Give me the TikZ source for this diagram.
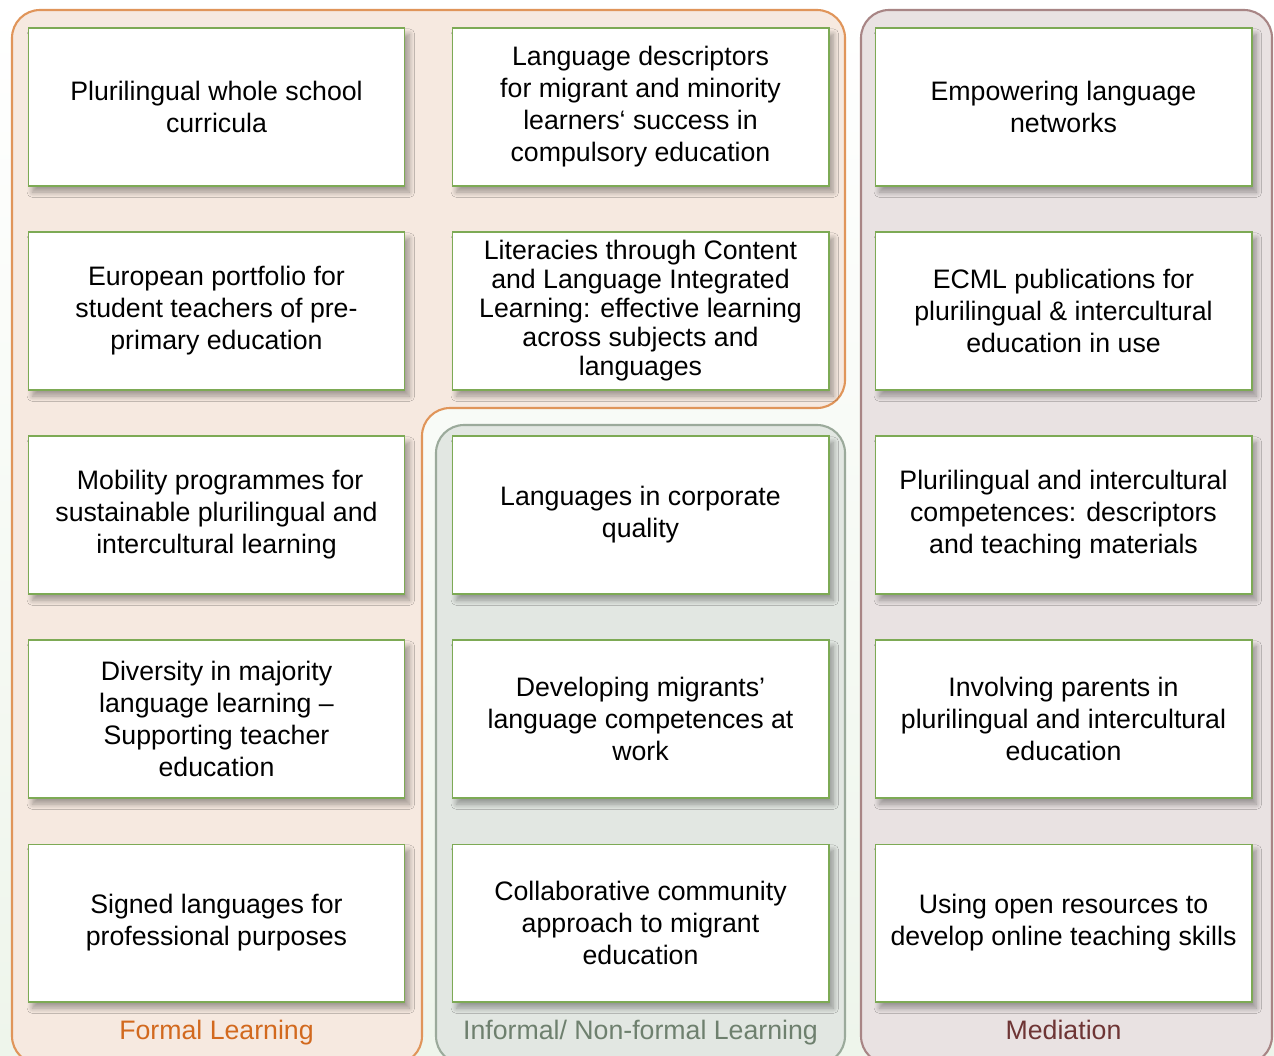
\documentclass[tikz,border=0pt]{standalone}
\usepackage{fontspec}
\setmainfont{Liberation Sans}
\usetikzlibrary{shadows.blur}
\definecolor{bgmint}{HTML}{EEF5EB}
\definecolor{boxline}{HTML}{7DAA55}
\definecolor{formalline}{HTML}{E0955A}
\definecolor{formalfill}{HTML}{F6E9E0}
\definecolor{formaltext}{HTML}{D2691E}
\definecolor{informalline}{HTML}{9BAA9B}
\definecolor{informalfill}{HTML}{E2E7E2}
\definecolor{informaltext}{HTML}{6E806E}
\definecolor{medline}{HTML}{A88585}
\definecolor{medfill}{HTML}{E9E2E2}
\definecolor{medtext}{HTML}{6E3535}
\begin{document}
\begin{tikzpicture}[x=0.02cm,y=-0.02cm,
    topic/.style={draw=boxline,line width=0.6pt,fill=white,minimum width=7.54cm,minimum height=3.16cm,align=center,font=\fontsize{15.2}{18.2}\selectfont,
      blur shadow={shadow xshift=2.5pt,shadow yshift=-3.5pt,shadow blur radius=3pt,shadow blur steps=8,shadow opacity=35}},
    grouplabel/.style={anchor=base,font=\fontsize{15.2}{18}\selectfont}]
    \useasboundingbox (0,0) rectangle (1274,1055);
    \shade[top color=white,bottom color=bgmint] (0,0) rectangle (1274,1055);

    % the three groups
    \draw[formalline,fill=formalfill,line width=1.2pt,rounded corners=0.56cm] (12,500) -- (12,10) -- (845,10) -- (845,408) -- (422,408) -- (422,1064) -- (12,1064) -- cycle;
    \draw[informalline,fill=informalfill,line width=1.2pt,rounded corners=0.56cm] (436,425) rectangle (845,1064);
    \draw[medline,fill=medfill,line width=1.2pt,rounded corners=0.56cm] (861,10) rectangle (1272,1064);

    % formal learning
    \node[topic] (wholeschool) at (216.5,107) {Plurilingual whole school\\curricula};
    \node[topic] (portfolio) at (216.5,311) {European portfolio for\\student teachers of pre-\\primary education};
    \node[topic] (mobility) at (216.5,515) {\ Mobility programmes for\\sustainable plurilingual and\\intercultural learning};
    \node[topic] (majority) at (216.5,719) {Diversity in majority\\language learning --\\Supporting teacher\\education};
    \node[topic] (signed) at (216.5,923) {Signed languages for\\professional purposes};
    \node[topic] (descriptors) at (640.5,107) {Language descriptors\\for migrant and minority\\learners‘ success in\\compulsory education};
    \node[topic,font=\fontsize{15.2}{16.5}\selectfont] (clil) at (640.5,311) {Literacies through Content\\and Language Integrated\\Learning: effective learning\\across subjects and\\languages};

    % informal/ non-formal learning
    \node[topic] (corporate) at (640.5,515) {Languages in corporate\\quality};
    \node[topic] (atwork) at (640.5,719) {Developing migrants’\\language competences at\\work};
    \node[topic] (community) at (640.5,923) {Collaborative community\\approach to migrant\\education};

    % mediation
    \node[topic] (networks) at (1063.5,107) {Empowering language\\networks};
    \node[topic] (inuse) at (1063.5,311) {ECML publications for\\plurilingual \& intercultural\\education in use};
    \node[topic] (competences) at (1063.5,515) {Plurilingual and intercultural\\competences: descriptors\\and teaching materials};
    \node[topic] (parents) at (1063.5,719) {Involving parents in\\plurilingual and intercultural\\education};
    \node[topic] (openres) at (1063.5,923) {Using open resources to\\develop online teaching skills};

    \node[grouplabel,text=formaltext] (formal) at (216.5,1039) {Formal Learning};
    \node[grouplabel,text=informaltext] (informal) at (640.5,1039) {Informal/ Non-formal Learning};
    \node[grouplabel,text=medtext] (mediation) at (1063.5,1039) {Mediation};
\end{tikzpicture}
\end{document}
